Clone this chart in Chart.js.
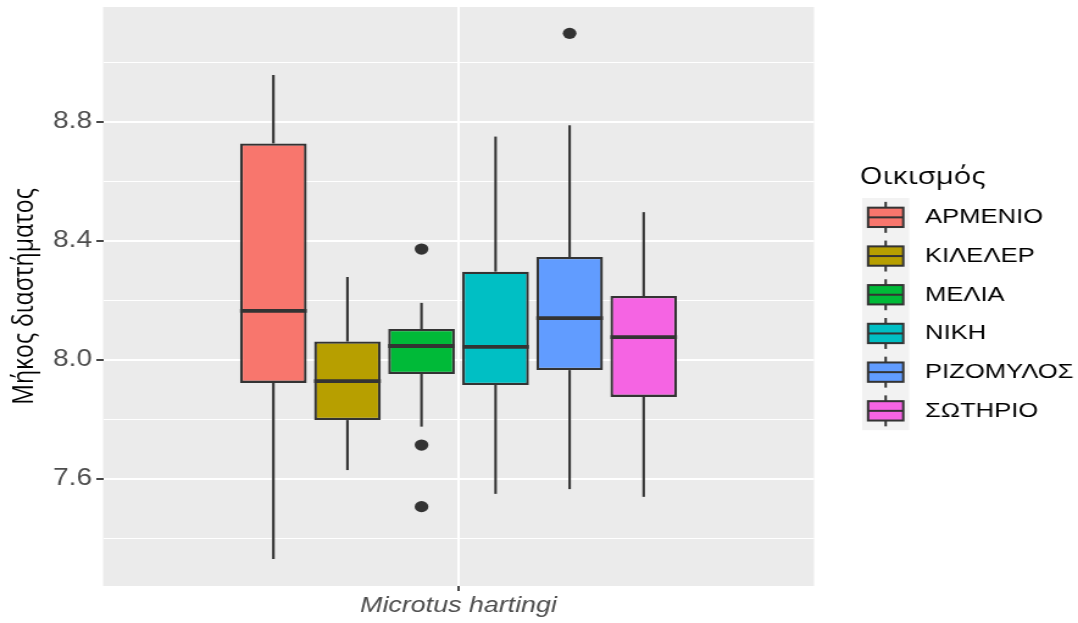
<!DOCTYPE html>
<html>
<head>
<meta charset="utf-8">
<script src="https://cdn.jsdelivr.net/npm/chart.js@4.4.1/dist/chart.umd.min.js"></script>
<style>
  html, body { margin: 0; padding: 0; background: #ffffff; overflow: hidden; }
  #wrap { width: 884px; height: 623px; transform: scaleX(1.2195); transform-origin: 0 0; }
  canvas { display: block; }
</style>
</head>
<body>
<div id="wrap"><canvas id="c" width="884" height="623"></canvas></div>
<script>
// Boxplot summaries of gap length per settlement
const category = ['Microtus hartingi'];
const groups = ['ΑΡΜΕΝΙΟ', 'ΚΙΛΕΛΕΡ', 'ΜΕΛΙΑ', 'ΝΙΚΗ', 'ΡΙΖΟΜΥΛΟΣ', 'ΣΩΤΗΡΙΟ'];
const colors = ['#F8766D', '#B79F00', '#00BA38', '#00BFC4', '#619CFF', '#F564E3'];
const lowerWhisker = [7.331, 7.630, 7.776, 7.550, 7.566, 7.540];
const q1 = [7.923, 7.798, 7.953, 7.916, 7.966, 7.876];
const median = [8.165, 7.929, 8.047, 8.044, 8.141, 8.077];
const q3 = [8.728, 8.062, 8.104, 8.297, 8.346, 8.215];
const upperWhisker = [8.958, 8.279, 8.192, 8.751, 8.789, 8.497];
const outliers = [[], [], [8.373, 7.714, 7.507], [], [9.098], []];
const majorTicks = [7.6, 8.0, 8.4, 8.8];
const yTitle = 'Μήκος διαστήματος';
const legendTitle = 'Οικισμός';

const LINE = '#333333';
const isMajor = v => majorTicks.some(m => Math.abs(m - v) < 1e-6);

const panelBg = {
  id: 'panelBg',
  beforeDraw(chart) {
    const { ctx, chartArea: a } = chart;
    ctx.save();
    ctx.fillStyle = '#EBEBEB';
    ctx.fillRect(a.left, a.top, a.right - a.left, a.bottom - a.top);
    ctx.restore();
  }
};

function seg(ctx, x1, y1, x2, y2) {
  ctx.beginPath();
  ctx.moveTo(x1, y1);
  ctx.lineTo(x2, y2);
  ctx.stroke();
}

// whiskers, medians and outlying points on top of the floating boxes
const boxParts = {
  id: 'boxParts',
  afterDatasetsDraw(chart) {
    const { ctx } = chart;
    const ys = chart.scales.y;
    ctx.save();
    ctx.strokeStyle = LINE;
    ctx.fillStyle = LINE;
    ctx.lineCap = 'butt';
    chart.data.datasets.forEach((ds, i) => {
      const bar = chart.getDatasetMeta(i).data[0];
      const x = bar.x;
      const half = bar.width / 2;
      ctx.lineWidth = 2.1;
      seg(ctx, x, ys.getPixelForValue(upperWhisker[i]), x, ys.getPixelForValue(q3[i]));
      seg(ctx, x, ys.getPixelForValue(q1[i]), x, ys.getPixelForValue(lowerWhisker[i]));
      ctx.lineWidth = 3.8;
      const ym = ys.getPixelForValue(median[i]);
      seg(ctx, x - half, ym, x + half, ym);
      outliers[i].forEach(v => {
        ctx.beginPath();
        ctx.arc(x, ys.getPixelForValue(v), 5.6, 0, Math.PI * 2);
        ctx.fill();
      });
    });
    ctx.restore();
  }
};

// legend with boxplot key glyphs
const boxLegend = {
  id: 'boxLegend',
  afterDraw(chart) {
    const { ctx, chartArea: a } = chart;
    const left = a.right + 37.5;
    const keyX = left + 2;
    const keyW = 38.5;
    const keyH = 38.7;
    const top = 198;
    ctx.save();
    ctx.fillStyle = '#000000';
    ctx.font = '24px "Open Sans"';
    ctx.textBaseline = 'alphabetic';
    ctx.textAlign = 'left';
    ctx.fillText(legendTitle, left, 184.3);

    ctx.fillStyle = '#F2F2F2';
    ctx.fillRect(keyX, top, keyW, keyH * groups.length);

    groups.forEach((g, i) => {
      const y0 = top + i * keyH;
      const cx = keyX + keyW / 2;
      ctx.strokeStyle = LINE;
      ctx.lineWidth = 2;
      seg(ctx, cx, y0 + 0.1 * keyH, cx, y0 + 0.25 * keyH);
      seg(ctx, cx, y0 + 0.75 * keyH, cx, y0 + 0.9 * keyH);
      const bx = keyX + 0.125 * keyW, bw = 0.75 * keyW;
      const by = y0 + 0.25 * keyH, bh = 0.5 * keyH;
      ctx.fillStyle = colors[i];
      ctx.fillRect(bx, by, bw, bh);
      ctx.strokeRect(bx, by, bw, bh);
      seg(ctx, bx, y0 + keyH / 2, bx + bw, y0 + keyH / 2);

      ctx.fillStyle = '#000000';
      ctx.font = '21px "Liberation Sans", Arial, sans-serif';
      ctx.textBaseline = 'middle';
      ctx.fillText(g, keyX + 51.5, y0 + keyH / 2);
    });
    ctx.restore();
  }
};

const datasets = groups.map((g, i) => ({
  label: g,
  data: [[q1[i], q3[i]]],
  backgroundColor: colors[i],
  borderColor: LINE,
  borderWidth: 2.3,
  borderSkipped: false,
  categoryPercentage: 0.625,
  barPercentage: 0.9
}));

new Chart(document.getElementById('c'), {
  type: 'bar',
  data: { labels: category, datasets },
  plugins: [panelBg, boxParts, boxLegend],
  options: {
    responsive: false,
    animation: false,
    devicePixelRatio: 1,
    layout: { padding: { left: 0, top: 7, right: 216.5, bottom: 0 } },
    plugins: { legend: { display: false }, tooltip: { enabled: false } },
    scales: {
      x: {
        type: 'category',
        offset: true,
        border: { display: false },
        grid: {
          offset: false,
          color: '#FFFFFF',
          lineWidth: 2,
          drawTicks: true,
          tickLength: 5,
          tickColor: LINE,
          tickWidth: 1.8
        },
        ticks: {
          color: '#4D4D4D',
          padding: 1.5,
          font: { family: '"Liberation Sans", Arial, sans-serif', size: 22, style: 'italic' }
        },
        afterFit(s) {
          s.height = 37;
          s.paddingLeft = 0;
          s.paddingRight = 0;
        }
      },
      y: {
        type: 'linear',
        min: 7.2403,
        max: 9.1866,
        border: { display: false },
        grid: {
          color: '#FFFFFF',
          lineWidth: c => (c.tick && isMajor(c.tick.value)) ? 2 : 1,
          tickLength: 5.5,
          tickColor: c => (c.tick && isMajor(c.tick.value)) ? LINE : 'rgba(0,0,0,0)',
          tickWidth: 1.8
        },
        ticks: {
          stepSize: 0.2,
          includeBounds: false,
          autoSkip: false,
          padding: 3.5,
          color: '#4D4D4D',
          font: { family: '"Liberation Sans", Arial, sans-serif', size: 23 },
          callback: v => isMajor(v) ? v.toFixed(1) : ''
        },
        title: {
          display: true,
          text: yTitle,
          color: '#000000',
          font: { family: '"Open Sans", sans-serif', size: 23 },
          padding: { top: 7, bottom: 0 }
        },
        afterFit(s) {
          s.width = 84.5;
          s.paddingTop = 0;
          s.paddingBottom = 0;
        }
      }
    }
  }
});
</script>
</body>
</html>
